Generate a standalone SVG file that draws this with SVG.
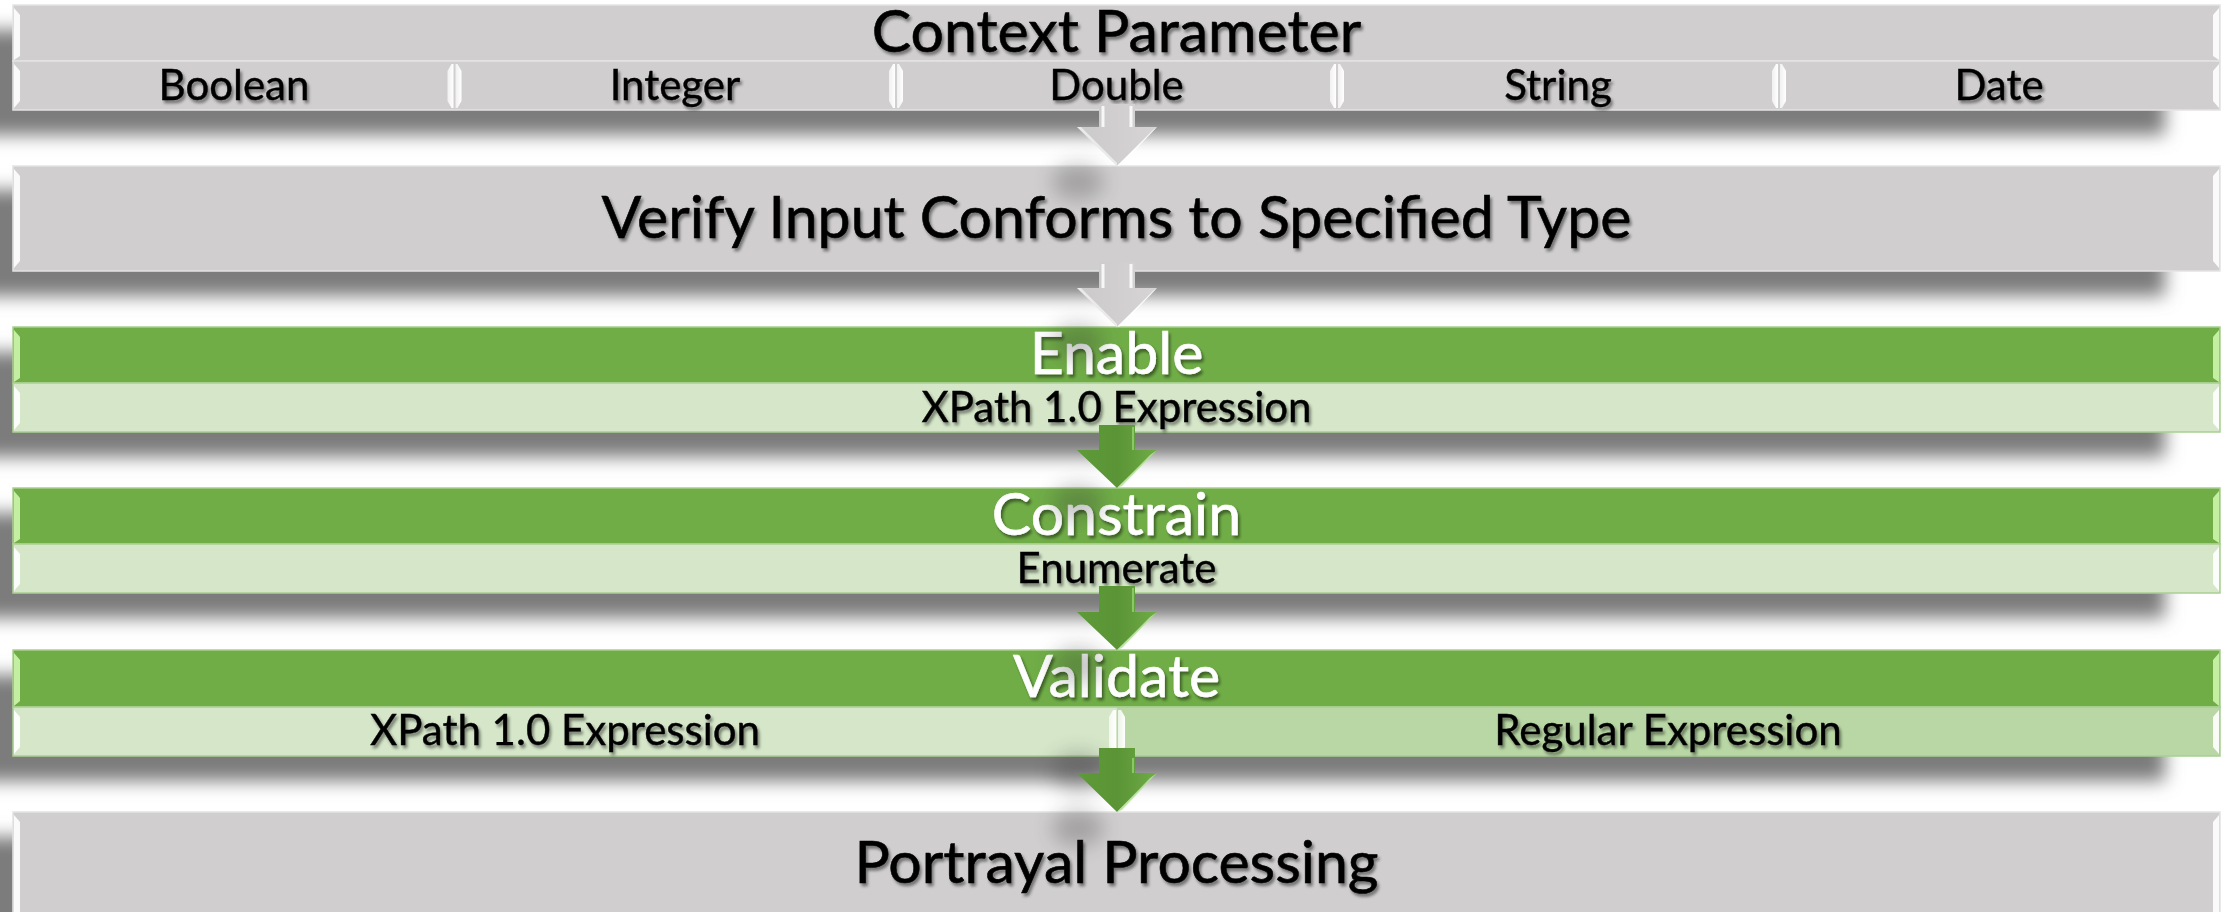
<svg xmlns="http://www.w3.org/2000/svg" width="2233" height="912" viewBox="0 0 2233 912">
  <defs>
    <filter id="barShadow" x="-10%" y="-100%" width="120%" height="300%">
      <feGaussianBlur stdDeviation="9"/>
    </filter>
    <filter id="arrowShadow" x="-100%" y="-100%" width="300%" height="300%">
      <feGaussianBlur stdDeviation="10"/>
    </filter>
    <filter id="txtShadow" x="-10%" y="-30%" width="120%" height="160%">
      <feDropShadow dx="2" dy="3" stdDeviation="1.8" flood-color="#000" flood-opacity="0.45"/>
    </filter>
    <linearGradient id="lensG" x1="0" y1="0" x2="1" y2="0">
      <stop offset="0" stop-color="#ffffff" stop-opacity="0.7"/>
      <stop offset="1" stop-color="#ffffff"/>
    </linearGradient>
    <linearGradient id="greenArrow" x1="0" y1="0" x2="1" y2="0">
      <stop offset="0" stop-color="#5e9a39"/>
      <stop offset="0.5" stop-color="#5a9436"/>
      <stop offset="1" stop-color="#6fac46"/>
    </linearGradient>
    <linearGradient id="grayArrow" x1="0" y1="0" x2="1" y2="0">
      <stop offset="0" stop-color="#cbc9ca"/>
      <stop offset="1" stop-color="#d6d4d5"/>
    </linearGradient>
  </defs>
  <style>
    .gray { fill: #d0cecf; }
    .green { fill: #70ad47; }
    .lgreen { fill: #d5e6c9; }
    .mgreen { fill: #b9d7a5; }
    .edge { fill: none; stroke: #e4e3e3; stroke-width: 1.5; }
    .gedge { fill: none; stroke: #a9cf90; stroke-width: 1.5; }
    .bev { fill: #ffffff; opacity: 0.9; }
    .gbev { fill: #c8f2a8; opacity: 0.95; }
    .shadow { fill: #7b7b7b; }
    .title { font-family: Lato, "Open Sans", "Liberation Sans", sans-serif; font-size: 59px; text-anchor: middle; fill: #000; stroke: #000; stroke-width: 0.6; }
    .sub { font-family: Lato, "Open Sans", "Liberation Sans", sans-serif; font-size: 42px; text-anchor: middle; fill: #000; stroke: #000; stroke-width: 0.4; }
    .wtitle { font-family: Lato, "Open Sans", "Liberation Sans", sans-serif; font-size: 59px; text-anchor: middle; fill: #fff; stroke: #fff; stroke-width: 0.6; }
  </style>
  <rect width="2233" height="912" fill="#ffffff"/>

  <!-- bar shadows -->
  <g id="shadows">
    <rect class="shadow" x="-40" y="30" width="2205" height="105" filter="url(#barShadow)"/>
    <rect class="shadow" x="-40" y="190" width="2205" height="106" filter="url(#barShadow)"/>
    <rect class="shadow" x="-40" y="352" width="2205" height="105" filter="url(#barShadow)"/>
    <rect class="shadow" x="-40" y="513" width="2205" height="105" filter="url(#barShadow)"/>
    <rect class="shadow" x="-40" y="675" width="2205" height="106" filter="url(#barShadow)"/>
    <rect class="shadow" x="-40" y="837" width="2205" height="106" filter="url(#barShadow)"/>
  </g>

  <!-- Node 1: Context Parameter -->
  <g id="context-parameter">
    <rect class="gray" x="13" y="5" width="2207" height="56"/>
    <rect class="edge" x="13" y="5" width="2207" height="56"/>
    <polygon class="bev" points="14,8 20,15 20,56 14,60"/>
    <polygon class="bev" points="2219,8 2213,15 2213,56 2219,60"/>
    <text class="title" x="1116.5" y="52" filter="url(#txtShadow)">Context Parameter</text>
    <g id="types">
      <rect class="gray" x="13" y="61" width="2207" height="49"/>
      <rect class="edge" x="13" y="61" width="2207" height="49"/>
      <polygon class="bev" points="14,64 20,71 20,101 14,108"/>
      <polygon class="bev" points="2219,64 2213,71 2213,101 2219,108"/>
      <g id="dividers">
        <polygon fill="url(#lensG)" points="447.5,71 451.5,64 453.5,64 453.5,108 451.5,108 447.5,101"/>
        <polygon fill="url(#lensG)" points="461.5,71 457.5,64 455.5,64 455.5,108 457.5,108 461.5,101"/>
        <polygon fill="url(#lensG)" points="889,71 893,64 895,64 895,108 893,108 889,101"/>
        <polygon fill="url(#lensG)" points="903,71 899,64 897,64 897,108 899,108 903,101"/>
        <polygon fill="url(#lensG)" points="1330,71 1334,64 1336,64 1336,108 1334,108 1330,101"/>
        <polygon fill="url(#lensG)" points="1344,71 1340,64 1338,64 1338,108 1340,108 1344,101"/>
        <polygon fill="url(#lensG)" points="1772,71 1776,64 1778,64 1778,108 1776,108 1772,101"/>
        <polygon fill="url(#lensG)" points="1786,71 1782,64 1780,64 1780,108 1782,108 1786,101"/>
      </g>
      <text class="sub" x="234" y="100" filter="url(#txtShadow)">Boolean</text>
      <text class="sub" x="675" y="100" filter="url(#txtShadow)">Integer</text>
      <text class="sub" x="1116.5" y="100" filter="url(#txtShadow)">Double</text>
      <text class="sub" x="1558" y="100" filter="url(#txtShadow)">String</text>
      <text class="sub" x="1999" y="100" filter="url(#txtShadow)">Date</text>
    </g>
  </g>

  <!-- Node 2: Verify -->
  <g id="verify-input">
    <rect class="gray" x="13" y="166" width="2207" height="105"/>
    <rect class="edge" x="13" y="166" width="2207" height="105"/>
    <polygon class="bev" points="14,169 20,176 20,261 14,268"/>
    <polygon class="bev" points="2219,169 2213,176 2213,261 2219,268"/>
    <text class="title" x="1116.5" y="238" filter="url(#txtShadow)">Verify Input Conforms to Specified Type</text>
  </g>

  <!-- Node 3: Enable -->
  <g id="enable">
    <rect class="green" x="13" y="327" width="2207" height="56"/>
    <rect class="gedge" x="13" y="327" width="2207" height="56"/>
    <polygon class="gbev" points="14,330 20,337 20,378 14,382"/>
    <polygon class="gbev" points="2219,330 2213,337 2213,378 2219,382"/>
    <text class="wtitle" x="1116.5" y="374" filter="url(#txtShadow)">Enable</text>
    <rect class="lgreen" x="13" y="383" width="2207" height="49"/>
    <rect class="gedge" x="13" y="383" width="2207" height="49"/>
    <polygon class="bev" points="14,386 20,393 20,423 14,430"/>
    <polygon class="bev" points="2219,386 2213,393 2213,423 2219,430"/>
    <text class="sub" x="1116.5" y="422" filter="url(#txtShadow)">XPath 1.0 Expression</text>
  </g>

  <!-- Node 4: Constrain -->
  <g id="constrain">
    <rect class="green" x="13" y="488" width="2207" height="56"/>
    <rect class="gedge" x="13" y="488" width="2207" height="56"/>
    <polygon class="gbev" points="14,491 20,498 20,539 14,543"/>
    <polygon class="gbev" points="2219,491 2213,498 2213,539 2219,543"/>
    <text class="wtitle" x="1116.5" y="535" filter="url(#txtShadow)">Constrain</text>
    <rect class="lgreen" x="13" y="544" width="2207" height="49"/>
    <rect class="gedge" x="13" y="544" width="2207" height="49"/>
    <polygon class="bev" points="14,547 20,554 20,584 14,591"/>
    <polygon class="bev" points="2219,547 2213,554 2213,584 2219,591"/>
    <text class="sub" x="1116.5" y="583" filter="url(#txtShadow)">Enumerate</text>
  </g>

  <!-- Node 5: Validate -->
  <g id="validate">
    <rect class="green" x="13" y="650" width="2207" height="57"/>
    <rect class="gedge" x="13" y="650" width="2207" height="57"/>
    <polygon class="gbev" points="14,653 20,660 20,701 14,706"/>
    <polygon class="gbev" points="2219,653 2213,660 2213,701 2219,706"/>
    <text class="wtitle" x="1116.5" y="697" filter="url(#txtShadow)">Validate</text>
    <rect class="lgreen" x="13" y="707" width="1104" height="49"/>
    <rect class="mgreen" x="1117" y="707" width="1103" height="49"/>
    <rect class="gedge" x="13" y="707" width="2207" height="49"/>
    <polygon class="bev" points="14,710 20,717 20,747 14,754"/>
    <polygon class="bev" points="2219,710 2213,717 2213,747 2219,754"/>
    <polygon fill="url(#lensG)" points="1109,717 1113,710 1116,710 1116,754 1113,754 1109,747"/>
    <polygon fill="url(#lensG)" points="1125,717 1121,710 1118,710 1118,754 1121,754 1125,747"/>
    <text class="sub" x="565" y="745" filter="url(#txtShadow)">XPath 1.0 Expression</text>
    <text class="sub" x="1668" y="745" filter="url(#txtShadow)">Regular Expression</text>
  </g>

  <!-- Node 6: Portrayal Processing -->
  <g id="portrayal-processing">
    <rect class="gray" x="13" y="812" width="2207" height="110"/>
    <rect class="edge" x="13" y="812" width="2207" height="110"/>
    <polygon class="bev" points="14,815 20,822 20,912 14,912"/>
    <polygon class="bev" points="2219,815 2213,822 2213,912 2219,912"/>
    <text class="title" x="1116.5" y="883" filter="url(#txtShadow)">Portrayal Processing</text>
  </g>

  <!-- Connectors -->
  <g id="connectors">
    <g id="arrow-shadows" opacity="0.28" filter="url(#arrowShadow)">
      <ellipse cx="1078" cy="182" rx="26" ry="18" fill="#333"/>
      <ellipse cx="1078" cy="342" rx="26" ry="18" fill="#333"/>
      <ellipse cx="1078" cy="503" rx="26" ry="18" fill="#333"/>
      <ellipse cx="1078" cy="665" rx="26" ry="18" fill="#333"/>
      <ellipse cx="1078" cy="772" rx="26" ry="20" fill="#333"/>
      <ellipse cx="1078" cy="828" rx="26" ry="18" fill="#333"/>
    </g>
    <g id="arrow-1">
      <polygon fill="url(#grayArrow)" points="1099,104 1135,104 1135,127 1157,127 1117,166 1077,127 1099,127"/>
      <line x1="1103" y1="106" x2="1103" y2="127" stroke="#fff" stroke-width="3" opacity="0.85"/>
      <line x1="1131" y1="106" x2="1131" y2="127" stroke="#fff" stroke-width="3" opacity="0.85"/>
      <polygon fill="#ffffff" opacity="0.9" points="1117,166 1153,130 1157,127 1121,165"/>
      <polygon fill="#ffffff" opacity="0.6" points="1081,127 1117,163 1117,166 1077,127"/>
    </g>
    <g id="arrow-2">
      <polygon fill="url(#grayArrow)" points="1099,262 1135,262 1135,288 1157,288 1117,327 1077,288 1099,288"/>
      <line x1="1103" y1="264" x2="1103" y2="288" stroke="#fff" stroke-width="3" opacity="0.85"/>
      <line x1="1131" y1="264" x2="1131" y2="288" stroke="#fff" stroke-width="3" opacity="0.85"/>
      <polygon fill="#ffffff" opacity="0.9" points="1117,327 1153,291 1157,288 1121,326"/>
      <polygon fill="#ffffff" opacity="0.6" points="1081,288 1117,324 1117,327 1077,288"/>
    </g>
    <g id="arrow-3">
      <polygon fill="url(#greenArrow)" points="1099,425 1135,425 1135,450 1157,450 1117,488 1077,450 1099,450"/>
      <polygon fill="#b7e29b" opacity="0.9" points="1117,488 1150,455 1157,450 1122,486"/>
      <line x1="1133" y1="427" x2="1133" y2="450" stroke="#8cc66a" stroke-width="2"/>
    </g>
    <g id="arrow-4">
      <polygon fill="url(#greenArrow)" points="1099,586 1135,586 1135,612 1157,612 1117,650 1077,612 1099,612"/>
      <polygon fill="#b7e29b" opacity="0.9" points="1117,650 1150,617 1157,612 1122,648"/>
      <line x1="1133" y1="588" x2="1133" y2="612" stroke="#8cc66a" stroke-width="2"/>
    </g>
    <g id="arrow-5">
      <polygon fill="url(#greenArrow)" points="1099,748 1135,748 1135,773 1157,773 1117,812 1077,773 1099,773"/>
      <polygon fill="#b7e29b" opacity="0.9" points="1117,812 1150,778 1157,773 1122,810"/>
      <line x1="1133" y1="758" x2="1133" y2="773" stroke="#8cc66a" stroke-width="2"/>
    </g>
  </g>
</svg>
